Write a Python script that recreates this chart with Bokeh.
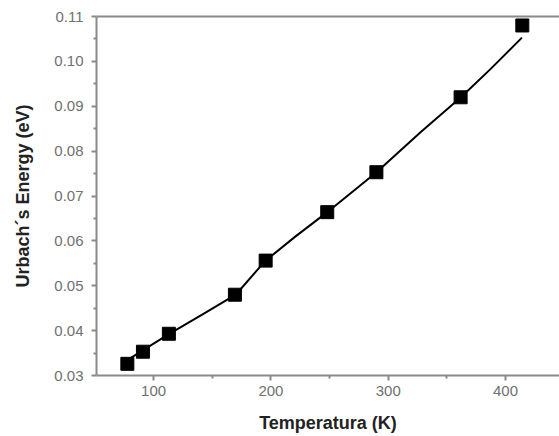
from bokeh.plotting import figure
from bokeh.models import LinearAxis, Range1d, FixedTicker
from bokeh.embed import file_html
from bokeh.resources import INLINE

# measured points
temperature = [77.6, 90.9, 113.0, 169.3, 195.5, 248.0, 289.9, 361.7, 414.3]
urbach_energy = [0.0326, 0.0353, 0.0393, 0.0480, 0.0556, 0.0664, 0.0753, 0.0920, 0.1080]

# fitted curve
fit_t = [77.0, 90.0, 113.0, 141.0, 170.0, 195.0, 221.0, 248.0, 290.0, 328.0, 362.0, 388.0, 414.0]
fit_e = [0.0333, 0.0355, 0.0392, 0.0435, 0.0480, 0.0555, 0.0610, 0.0664, 0.0753, 0.0843, 0.0920, 0.0985, 0.1053]

x_ticks = [100, 200, 300, 400]
y_ticks = [0.03, 0.04, 0.05, 0.06, 0.07, 0.08, 0.09, 0.10, 0.11]
y_tick_labels = ["0.03", "0.04", "0.05", "0.06", "0.07", "0.08", "0.09", "0.10", "0.11"]

FONT = "Liberation Sans"
AXIS_GRAY = "#8a8a8a"

p = figure(width=559, height=436, output_backend="svg", toolbar_location=None,
           x_range=Range1d(51.3, 446.0), y_range=Range1d(0.03, 0.11),
           min_border_left=96, min_border_right=0, min_border_top=16, min_border_bottom=61)
p.outline_line_color = None
p.grid.grid_line_color = None
p.background_fill_color = "white"
p.border_fill_color = "white"

p.line(fit_t, fit_e, line_color="black", line_width=2)
p.scatter(temperature, urbach_energy, marker="square", size=13, fill_color="black", line_color="black")

for ax in (p.xaxis[0], p.yaxis[0]):
    ax.axis_line_color = AXIS_GRAY
    ax.axis_line_width = 2
    ax.major_tick_line_color = AXIS_GRAY
    ax.major_tick_line_width = 2
    ax.minor_tick_line_color = AXIS_GRAY
    ax.minor_tick_line_width = 2
    ax.major_tick_out = 5
    ax.major_tick_in = 0
    ax.minor_tick_out = 3
    ax.minor_tick_in = 0
    ax.major_label_text_font = FONT
    ax.major_label_text_font_size = "15px"
    ax.major_label_text_color = "#707070"
    ax.axis_label_text_font = FONT
    ax.axis_label_text_font_size = "18px"
    ax.axis_label_text_font_style = "bold"
    ax.axis_label_text_color = "#222222"

p.xaxis[0].ticker = FixedTicker(ticks=x_ticks, minor_ticks=[50, 150, 250, 350, 450])
p.yaxis[0].ticker = FixedTicker(ticks=y_ticks,
                                minor_ticks=[0.035, 0.045, 0.055, 0.065, 0.075, 0.085, 0.095, 0.105])
p.yaxis[0].major_label_overrides = dict(zip(y_ticks, y_tick_labels))
p.xaxis[0].axis_label = "Temperatura (K)"
p.yaxis[0].axis_label = "Urbach´s Energy (eV)"
p.xaxis[0].major_label_standoff = 5
p.yaxis[0].major_label_standoff = 8
p.xaxis[0].axis_label_standoff = 14
p.yaxis[0].axis_label_standoff = 18

top = LinearAxis(axis_line_color=AXIS_GRAY, axis_line_width=2,
                 major_tick_line_color=None, minor_tick_line_color=None,
                 major_label_text_font_size="0px", major_label_text_color=None)
p.add_layout(top, "above")

open("out.html", "w").write(file_html(p, INLINE))
